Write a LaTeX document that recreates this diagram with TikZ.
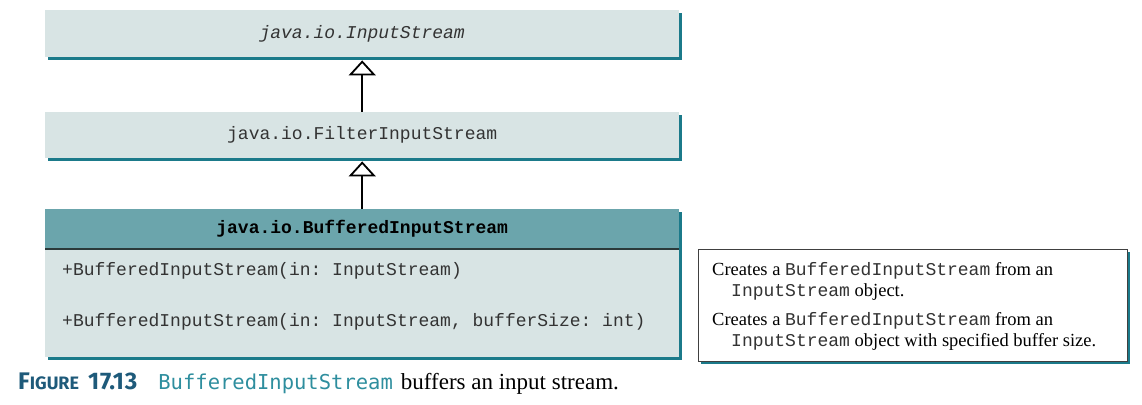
\documentclass[tikz,border=0pt]{standalone}
\usepackage{fontspec}
\setmainfont{Liberation Serif}
\setmonofont{Liberation Mono}
\newfontfamily\capsans{Fira Sans}
\newfontfamily\capmono{DejaVu Sans Mono}
\usetikzlibrary{arrows.meta,shadows}
\definecolor{boxfill}{HTML}{D8E4E4}
\definecolor{headfill}{HTML}{6BA5AC}
\definecolor{shadowc}{HTML}{1B7A8A}
\definecolor{sepc}{HTML}{2B3A3A}
\definecolor{capblue}{HTML}{1E5A7A}
\definecolor{capteal}{HTML}{2E8E9E}
\definecolor{txtc}{HTML}{333333}
\tikzset{
  umlbox/.style={fill=boxfill, draw=none, inner sep=0pt, anchor=north west,
    minimum width=634pt, general shadow={fill=shadowc, shadow xshift=3pt, shadow yshift=-3pt}},
  headbox/.style={umlbox, fill=headfill},
  desc/.style={fill=white, draw=black!75, line width=0.8pt, inner sep=0pt, anchor=north west,
    minimum width=429pt, minimum height=112pt,
    general shadow={fill=shadowc, shadow xshift=3pt, shadow yshift=-3pt}},
  mono/.style={font=\fontsize{18}{21}\selectfont\ttfamily, text=txtc, inner sep=0pt},
  rtext/.style={font=\fontsize{18.5}{21}\selectfont, inner sep=0pt, anchor=west},
  inherit/.style={draw=black, line width=1.8pt, -{Triangle[open, length=15pt, width=27pt, line width=1.8pt]}}
}
\newcommand{\mm}[1]{{\fontsize{18}{21}\selectfont\ttfamily\color{txtc}#1}}
\begin{document}
\begin{tikzpicture}[x=1pt, y=-1pt]
\useasboundingbox (0,0) rectangle (1142,404);
% boxes
\node[umlbox, minimum height=47pt] (is) at (45,10) {};
\node[mono, font=\fontsize{18}{21}\selectfont\ttfamily\itshape] (istext) at (is.center) {java.io.InputStream};
\node[umlbox, minimum height=46pt] (fis) at (45,112) {};
\node[mono] (fistext) at (fis.center) {java.io.FilterInputStream};
\node[headbox, minimum height=40pt] (bis) at (45,209) {};
\node[umlbox, minimum height=108pt] (bisbody) at (45,249) {};
\node[mono, font=\fontsize{18}{21}\selectfont\ttfamily\bfseries, text=black] (bistext) at (bis.center) {java.io.BufferedInputStream};
\draw[sepc, line width=1.5pt] (bisbody.north west) -- (bisbody.north east);
\node[mono, anchor=west] (c1) at (62,271) {+BufferedInputStream(in: InputStream)};
\node[mono, anchor=west] (c2) at (62,322) {+BufferedInputStream(in: InputStream, bufferSize: int)};
% inheritance
\draw[inherit] (fis.north) -- ([yshift=-3pt]is.south);
\draw[inherit] (bis.north) -- ([yshift=-3pt]fis.south);
% description box
\node[desc] (d) at (698,249) {};
\node[rtext] (d1) at (712,271) {Creates a \mm{BufferedInputStream} from an};
\node[rtext] (d2) at (731,292) {\mm{InputStream} object.};
\node[rtext] (d3) at (712,321) {Creates a \mm{BufferedInputStream} from an};
\node[rtext] (d4) at (731,342) {\mm{InputStream} object with specified buffer size.};
% caption
\node[anchor=base west, inner sep=0pt] (cap) at (18,389) {%
  {\capsans\bfseries\color{capblue}\fontsize{24}{27}\selectfont F{\fontsize{18}{21}\selectfont IGURE}\hspace{9pt}1\hspace{1pt}7.1\hspace{1pt}3}\hspace{21pt}%
  {\capmono\color{capteal}\fontsize{20.5}{24}\selectfont BufferedInputStream}\hspace{8pt}%
  {\fontsize{23}{26}\selectfont buffers an input stream.}};
\end{tikzpicture}
\end{document}
